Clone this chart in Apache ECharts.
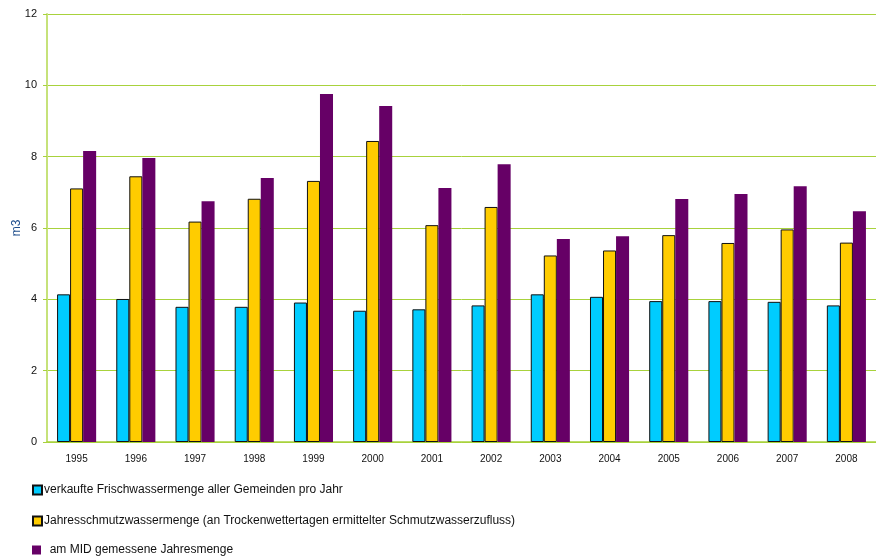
<!DOCTYPE html>
<html lang="de">
<head>
    <meta charset="UTF-8">
    <title>Wassermengen</title>
    <script src="https://cdn.jsdelivr.net/npm/echarts@6/dist/echarts.min.js"></script>
    <style>
        body { margin: 0; padding: 0; background: #fff; }
    </style>
</head>
<body>
    <div id="chart" style="width: 876px; height: 560px;"></div>
    <script>
        var years = ["1995", "1996", "1997", "1998", "1999", "2000", "2001", "2002", "2003", "2004", "2005", "2006", "2007", "2008"];
        var frischwasser = [4.14, 4.01, 3.79, 3.79, 3.91, 3.68, 3.72, 3.83, 4.14, 4.07, 3.95, 3.95, 3.93, 3.83];
        var schmutzwasser = [7.11, 7.45, 6.18, 6.82, 7.32, 8.44, 6.08, 6.59, 5.23, 5.37, 5.80, 5.58, 5.96, 5.59];
        var midMenge = [8.16, 7.96, 6.75, 7.40, 9.76, 9.42, 7.12, 7.79, 5.69, 5.77, 6.81, 6.95, 7.17, 6.47];
        var seriesNames = [
            "verkaufte Frischwassermenge aller Gemeinden pro Jahr",
            "Jahresschmutzwassermenge (an Trockenwettertagen ermittelter Schmutzwasserzufluss)",
            "am MID gemessene Jahresmenge"
        ];

        var green = "#a8d23c";
        var chart = echarts.init(document.getElementById("chart"));

        // one legend per row, like the original
        var legendTops = [479, 510, 539];
        var legends = seriesNames.map(function (name, i) {
            return {
                left: 27,
                top: legendTops[i],
                icon: "rect",
                itemWidth: 9,
                itemHeight: 9,
                textStyle: { fontSize: 12, color: "#111", padding: [0, 0, 0, -3] },
                data: [name],
                formatter: function (n) {
                    return i === 2 ? "  " + n : n;
                }
            };
        });

        var option = {
            animation: false,
            textStyle: { fontFamily: "Liberation Sans, Arial, sans-serif" },
            grid: { left: 47, right: 0, top: 14, bottom: 118, outerBoundsMode: "none" },
            legend: legends,
            xAxis: {
                type: "category",
                data: years,
                axisLine: { lineStyle: { color: green, width: 1.5 } },
                axisTick: { alignWithLabel: false, length: 5, lineStyle: { color: green } },
                axisLabel: { fontSize: 10, color: "#111", margin: 12 }
            },
            yAxis: {
                type: "value",
                min: 0,
                max: 12,
                interval: 2,
                name: "m3",
                nameLocation: "middle",
                nameGap: 24,
                nameMoveOverlap: false,
                nameTextStyle: { color: "#1f4e8c", fontSize: 12 },
                axisLine: { show: true, lineStyle: { color: "#c6e27a", width: 2 } },
                axisTick: { show: true, length: 4, lineStyle: { color: green } },
                axisLabel: { fontSize: 11, color: "#111", margin: 10 },
                splitLine: { lineStyle: { color: green, width: 1 } }
            },
            series: [
                {
                    name: seriesNames[0],
                    type: "bar",
                    data: frischwasser,
                    barGap: "0%",
                    barCategoryGap: "34%",
                    itemStyle: { color: "#00ccff", borderColor: "#111", borderWidth: 1 }
                },
                {
                    name: seriesNames[1],
                    type: "bar",
                    data: schmutzwasser,
                    itemStyle: { color: "#ffcc00", borderColor: "#111", borderWidth: 1 }
                },
                {
                    name: seriesNames[2],
                    type: "bar",
                    data: midMenge,
                    itemStyle: { color: "#660066" }
                }
            ]
        };
        chart.setOption(option);
    </script>
</body>
</html>
